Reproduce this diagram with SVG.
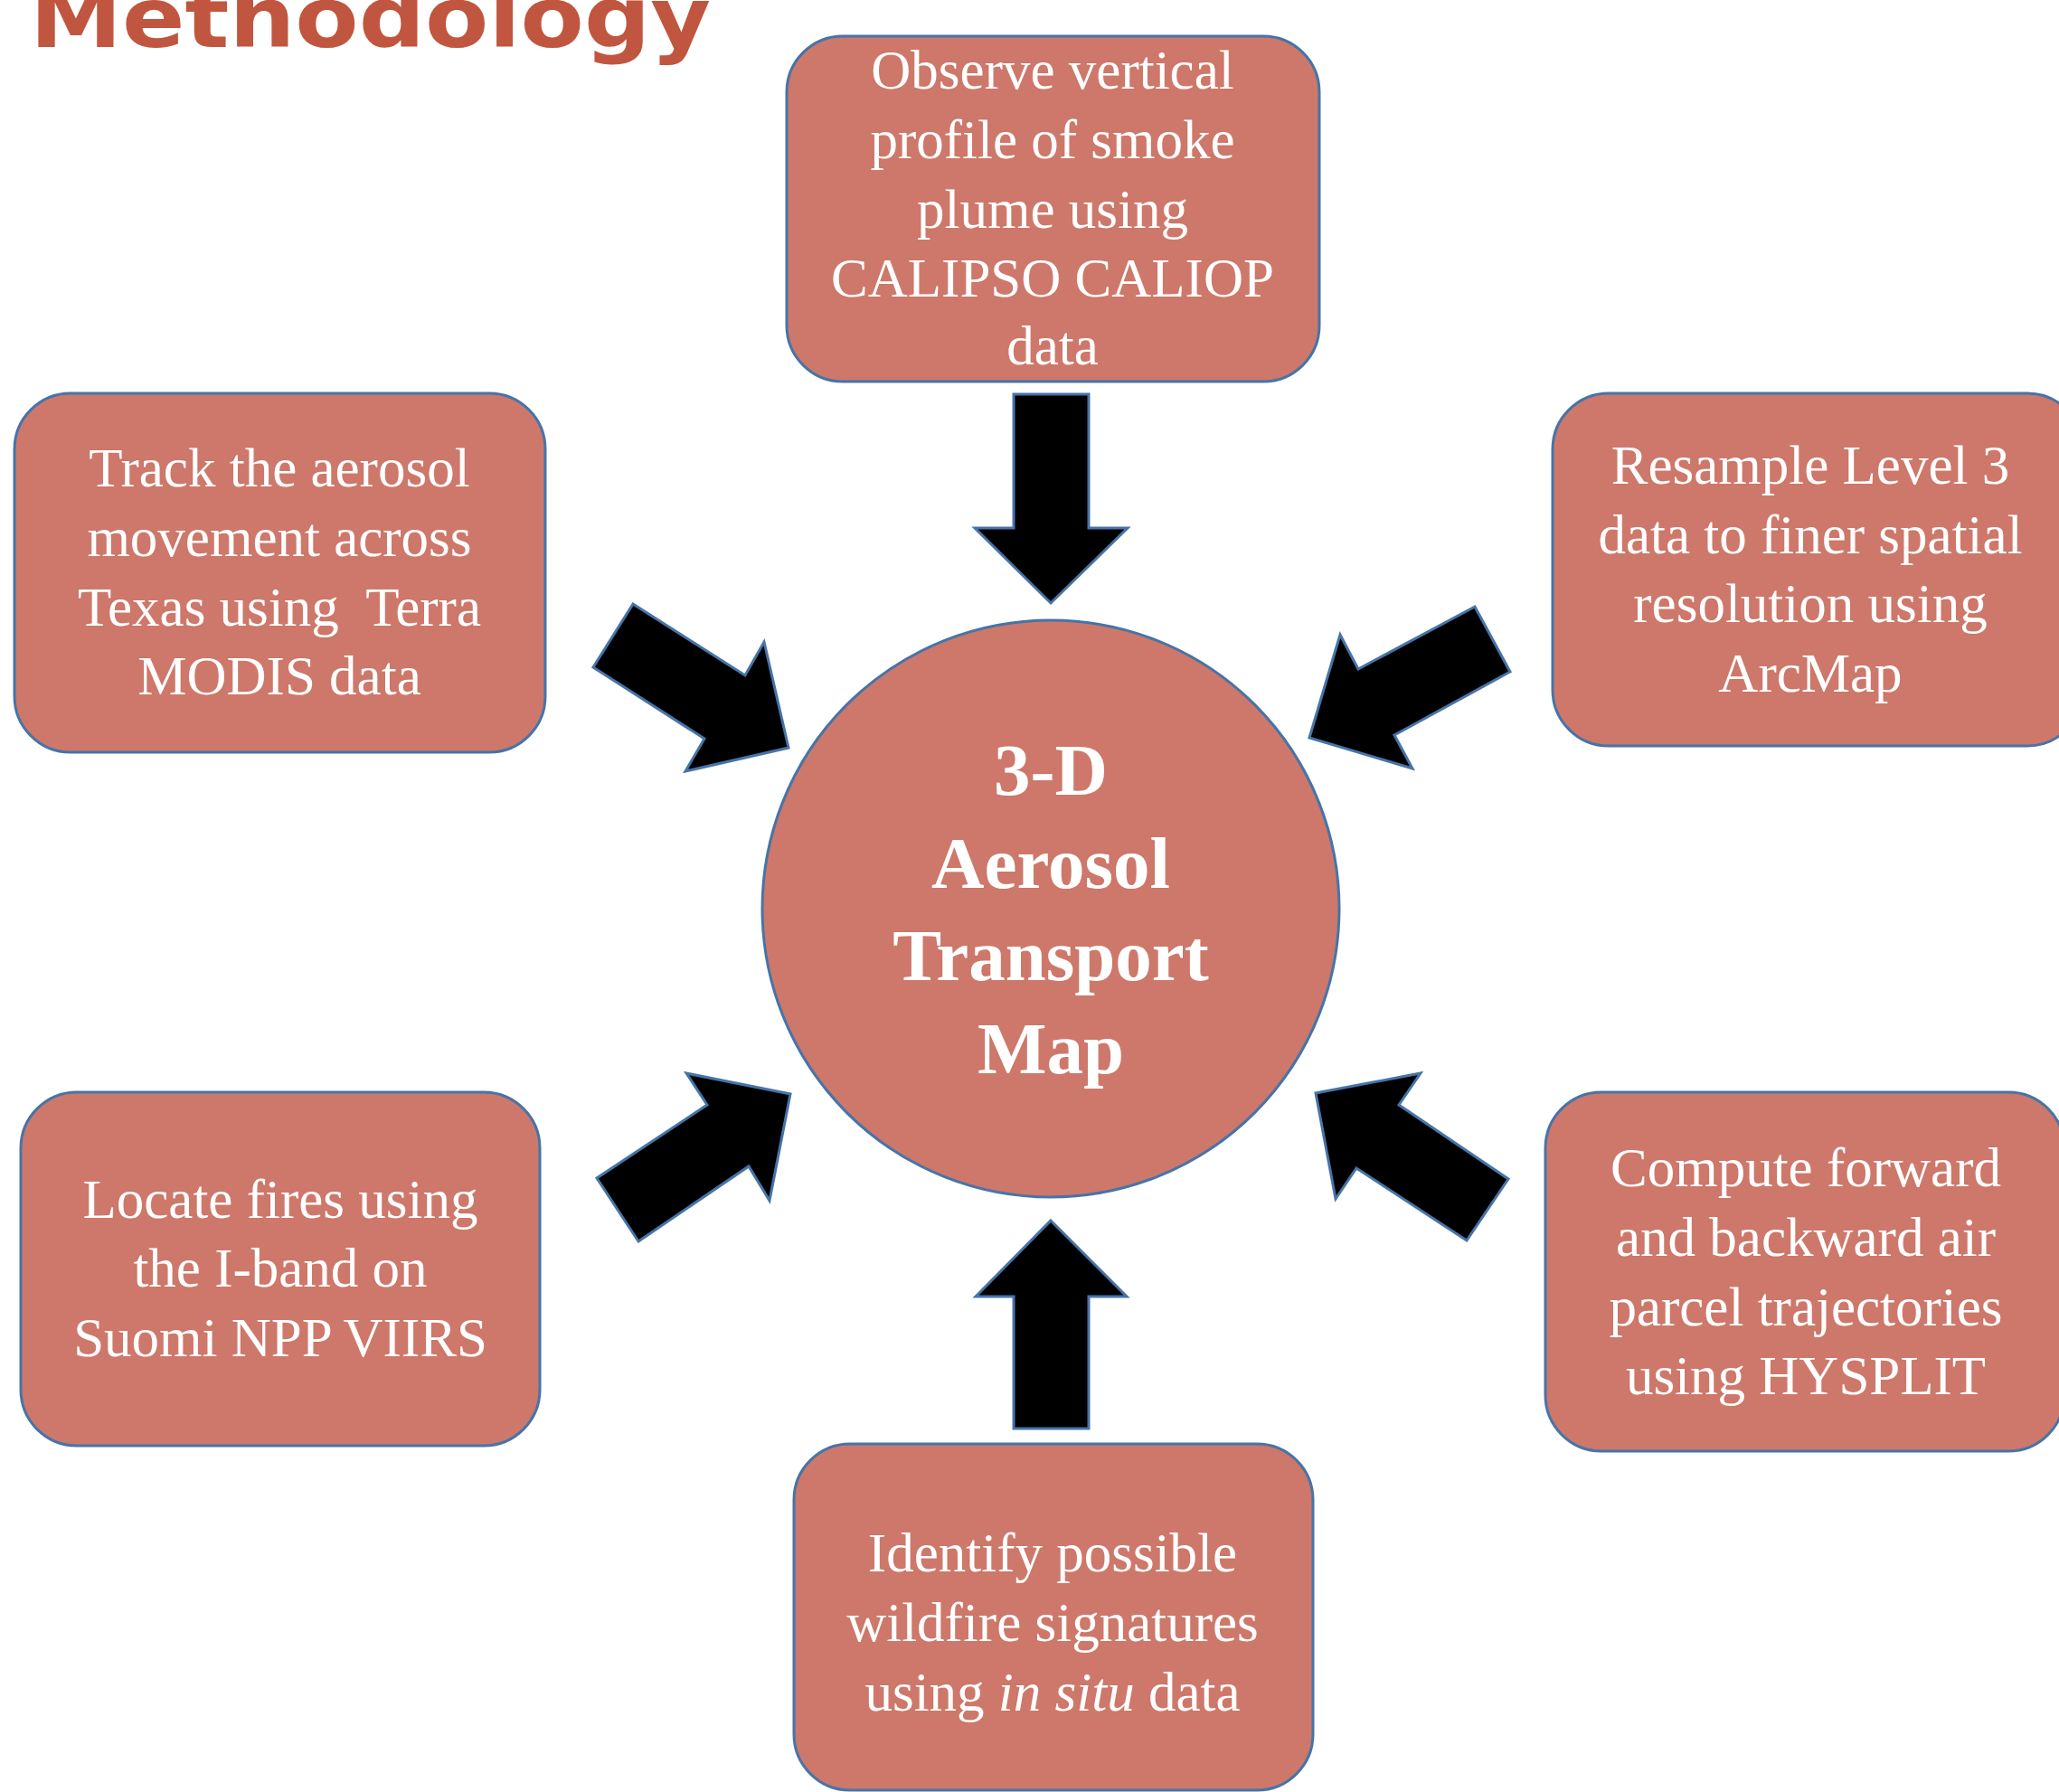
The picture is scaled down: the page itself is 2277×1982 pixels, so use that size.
<svg xmlns="http://www.w3.org/2000/svg" width="2277" height="1982" viewBox="0 0 2277 1982">
<style>
.box{fill:#CD786A;stroke:#4674A8;stroke-width:3}
.arr{fill:#000;stroke:#4674A8;stroke-width:3;stroke-linejoin:miter}
.t{font-family:"Liberation Serif","Times New Roman",serif;font-size:61px;fill:#fff;text-anchor:middle}
.c{font-family:"Liberation Serif","Times New Roman",serif;font-size:81px;font-weight:bold;fill:#fff;text-anchor:middle}
.title{font-family:"DejaVu Sans","Liberation Sans",sans-serif;font-size:92px;font-weight:bold;fill:#C0563F}
</style>
<rect width="2277" height="1982" fill="#fff"/>
<text class="title" x="33" y="52" textLength="753" lengthAdjust="spacingAndGlyphs">Methodology</text>

<g id="connectors">
<polygon class="arr" points="1121,436 1204,436 1204,584 1247,584 1162,667 1078,584 1121,584"/>
<polygon class="arr" points="1162,1350 1246,1434 1204,1434 1204,1580 1121,1580 1121,1434 1079,1434"/>
<polygon class="arr" points="700,668 824,747 845,710 872,827 758,853 779,817 656,738"/>
<polygon class="arr" points="1631,671 1502,740 1482,702 1448,816 1562,850 1542,813 1670,743"/>
<polygon class="arr" points="706,1373 828,1290 851,1328 874,1210 759,1187 782,1222 660,1303"/>
<polygon class="arr" points="1622,1372 1500,1292 1477,1326 1455,1209 1571,1187 1547,1222 1668,1304"/>
</g>

<g id="center">
<circle class="box" cx="1162" cy="1005" r="319"/>
<text class="c" x="1162" y="879">3-D</text>
<text class="c" x="1162" y="982">Aerosol</text>
<text class="c" x="1162" y="1084">Transport</text>
<text class="c" x="1162" y="1187">Map</text>
</g>

<g id="n-top">
<rect class="box" x="870" y="40" width="589" height="382" rx="62"/>
<text class="t" x="1164" y="98">Observe vertical</text>
<text class="t" x="1164" y="175">profile of  smoke</text>
<text class="t" x="1164" y="252">plume using</text>
<text class="t" x="1164" y="328">CALIPSO CALIOP</text>
<text class="t" x="1164" y="403">data</text>
</g>

<g id="n-topleft">
<rect class="box" x="16" y="435" width="587" height="397" rx="62"/>
<text class="t" x="309" y="538">Track the aerosol</text>
<text class="t" x="309" y="615">movement across</text>
<text class="t" x="309" y="692" xml:space="preserve">Texas using  Terra</text>
<text class="t" x="309" y="768">MODIS data</text>
</g>

<g id="n-topright">
<rect class="box" x="1717" y="435" width="587" height="390" rx="62"/>
<text class="t" x="2002" y="535">Resample Level 3</text>
<text class="t" x="2002" y="612">data to finer spatial</text>
<text class="t" x="2002" y="688">resolution using</text>
<text class="t" x="2002" y="765">ArcMap</text>
</g>

<g id="n-bottomleft">
<rect class="box" x="23" y="1208" width="574" height="391" rx="62"/>
<text class="t" x="310" y="1347">Locate fires using</text>
<text class="t" x="310" y="1423">the I-band on</text>
<text class="t" x="310" y="1500">Suomi NPP VIIRS</text>
</g>

<g id="n-bottomright">
<rect class="box" x="1709" y="1208" width="574" height="397" rx="62"/>
<text class="t" x="1997" y="1312">Compute forward</text>
<text class="t" x="1997" y="1389">and backward air</text>
<text class="t" x="1997" y="1466">parcel trajectories</text>
<text class="t" x="1997" y="1542">using HYSPLIT</text>
</g>

<g id="n-bottom">
<rect class="box" x="878" y="1597" width="574" height="383" rx="62"/>
<text class="t" x="1164" y="1738">Identify possible</text>
<text class="t" x="1164" y="1815">wildfire signatures</text>
<text class="t" x="1164" y="1892">using <tspan font-style="italic">in situ</tspan> data</text>
</g>
</svg>
